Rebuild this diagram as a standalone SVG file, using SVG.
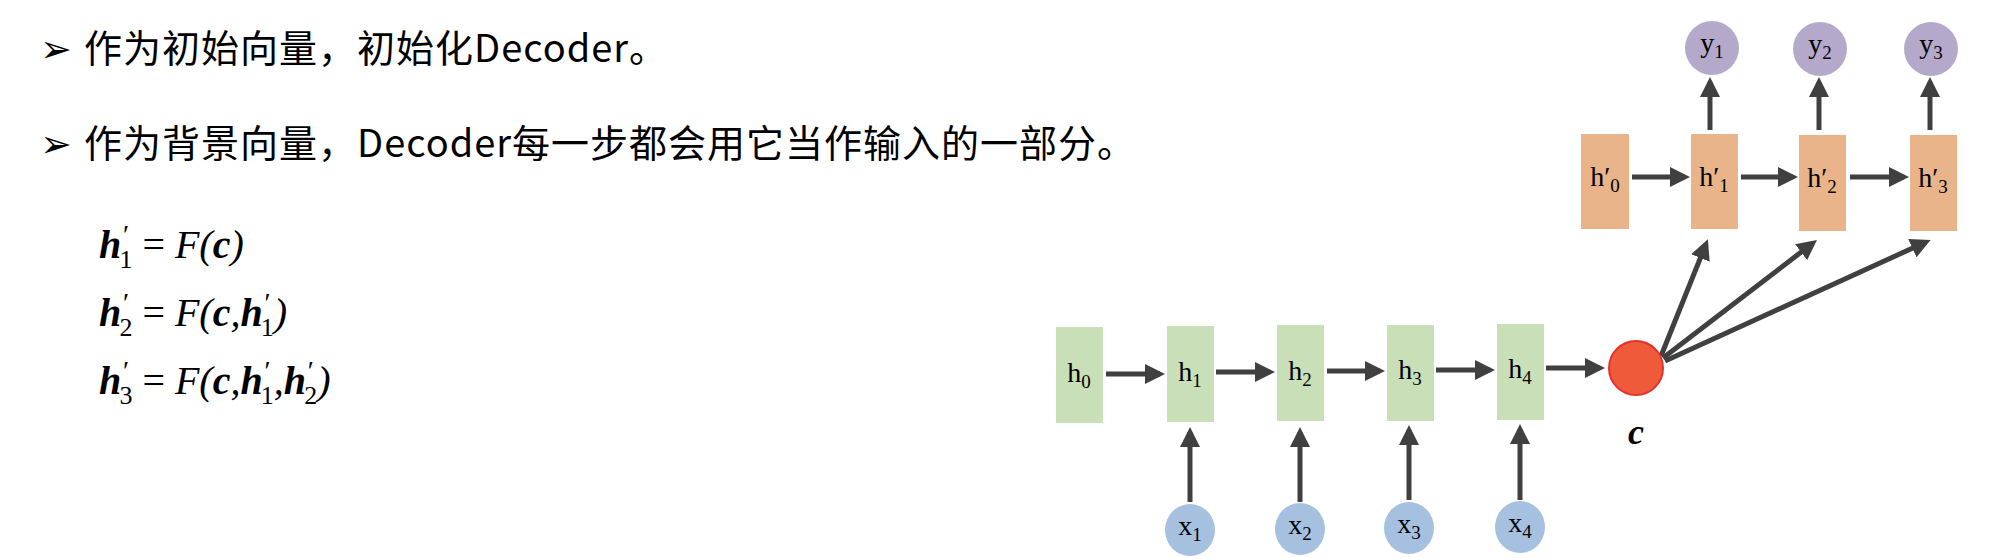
<svg xmlns="http://www.w3.org/2000/svg" width="1994" height="558" viewBox="0 0 1994 558">
<style>
.t{font-family:"Noto Sans CJK SC","Liberation Sans",sans-serif;font-size:38px;fill:#000;letter-spacing:1px}
.bu{font-family:"DejaVu Sans",sans-serif;font-size:38px;fill:#000}
.eq{font-family:"Liberation Serif",serif;font-size:40px;font-style:italic;fill:#000}
.b{font-weight:bold}
.n{font-family:"Liberation Serif","DejaVu Serif",serif;font-size:28px;fill:#000;text-anchor:middle}
.s{font-size:19px}
.enc{fill:#c9dfb8}
.dec{fill:#e9b48a}
.x{fill:#a6c1e0}
.y{fill:#b4a8cb}
.a{stroke:#404040;stroke-width:5;fill:none;marker-end:url(#ah)}
</style>
<defs>
<marker id="ah" markerWidth="4" markerHeight="4" refX="3" refY="2" orient="auto" markerUnits="strokeWidth"><path d="M0,0 L4,2 L0,4 z" fill="#404040"/></marker>
</defs>
<g id="text">
<text class="bu" x="40" y="62">➢</text>
<text class="t" x="84" y="62">作为初始向量，初始化Decoder。</text>
<text class="bu" x="40" y="157">➢</text>
<text class="t" x="84" y="157">作为背景向量，Decoder每一步都会用它当作输入的一部分。</text>
<text class="eq" x="99" y="258"><tspan class="b">h</tspan><tspan dy="-14" font-size="28">′</tspan><tspan dx="-8" dy="24" font-size="26" font-style="normal">1</tspan><tspan dy="-10" font-style="normal"> = </tspan>F(<tspan class="b">c</tspan>)</text>
<text class="eq" x="99" y="326"><tspan class="b">h</tspan><tspan dy="-14" font-size="28">′</tspan><tspan dx="-8" dy="24" font-size="26" font-style="normal">2</tspan><tspan dy="-10" font-style="normal"> = </tspan>F(<tspan class="b">c</tspan>,<tspan class="b">h</tspan><tspan dy="-14" font-size="28">′</tspan><tspan dx="-8" dy="24" font-size="26" font-style="normal">1</tspan><tspan dy="-10">)</tspan></text>
<text class="eq" x="99" y="394"><tspan class="b">h</tspan><tspan dy="-14" font-size="28">′</tspan><tspan dx="-8" dy="24" font-size="26" font-style="normal">3</tspan><tspan dy="-10" font-style="normal"> = </tspan>F(<tspan class="b">c</tspan>,<tspan class="b">h</tspan><tspan dy="-14" font-size="28">′</tspan><tspan dx="-8" dy="24" font-size="26" font-style="normal">1</tspan><tspan dy="-10">,</tspan><tspan class="b">h</tspan><tspan dy="-14" font-size="28">′</tspan><tspan dx="-8" dy="24" font-size="26" font-style="normal">2</tspan><tspan dy="-10">)</tspan></text>
</g>
<g id="connectors">
<line class="a" x1="1106" y1="374" x2="1160" y2="374"/>
<line class="a" x1="1216" y1="372" x2="1270" y2="372"/>
<line class="a" x1="1327" y1="371" x2="1380" y2="371"/>
<line class="a" x1="1436" y1="370" x2="1490" y2="370"/>
<line class="a" x1="1546" y1="368" x2="1600" y2="368"/>
<line class="a" x1="1632" y1="177" x2="1685" y2="177"/>
<line class="a" x1="1741" y1="177" x2="1793" y2="177"/>
<line class="a" x1="1850" y1="177" x2="1904" y2="177"/>
<line class="a" x1="1190" y1="502" x2="1190" y2="432"/>
<line class="a" x1="1300" y1="502" x2="1300" y2="432"/>
<line class="a" x1="1409" y1="500" x2="1409" y2="430"/>
<line class="a" x1="1520" y1="500" x2="1520" y2="429"/>
<line class="a" x1="1710" y1="130" x2="1710" y2="82"/>
<line class="a" x1="1819" y1="130" x2="1819" y2="82"/>
<line class="a" x1="1930" y1="130" x2="1930" y2="82"/>
<line class="a" x1="1661" y1="356" x2="1706" y2="244"/>
<line class="a" x1="1663" y1="358" x2="1813" y2="243"/>
<line class="a" x1="1665" y1="361" x2="1926" y2="242"/>
</g>
<g id="enc">
<g id="h0"><rect class="enc" x="1056" y="327" width="47" height="96"/><text class="n" x="1079" y="382">h<tspan class="s" dy="6">0</tspan></text></g>
<g id="h1"><rect class="enc" x="1167" y="326" width="47" height="96"/><text class="n" x="1190" y="381">h<tspan class="s" dy="6">1</tspan></text></g>
<g id="h2"><rect class="enc" x="1277" y="325" width="47" height="96"/><text class="n" x="1300" y="380">h<tspan class="s" dy="6">2</tspan></text></g>
<g id="h3"><rect class="enc" x="1387" y="325" width="47" height="96"/><text class="n" x="1410" y="379">h<tspan class="s" dy="6">3</tspan></text></g>
<g id="h4"><rect class="enc" x="1497" y="324" width="47" height="96"/><text class="n" x="1520" y="378">h<tspan class="s" dy="6">4</tspan></text></g>
</g>
<g id="c"><circle cx="1636" cy="368" r="27" fill="#ee5a3a" stroke="#e8302a" stroke-width="2"/><text x="1636" y="444" font-family="Liberation Serif,serif" font-size="36" font-style="italic" font-weight="bold" text-anchor="middle">c</text></g>
<g id="dec">
<g id="hp0"><rect class="dec" x="1581" y="134" width="48" height="95"/><text class="n" x="1605" y="186">h′<tspan class="s" dy="6">0</tspan></text></g>
<g id="hp1"><rect class="dec" x="1691" y="134" width="47" height="95"/><text class="n" x="1714" y="186">h′<tspan class="s" dy="6">1</tspan></text></g>
<g id="hp2"><rect class="dec" x="1799" y="135" width="47" height="96"/><text class="n" x="1822" y="187">h′<tspan class="s" dy="6">2</tspan></text></g>
<g id="hp3"><rect class="dec" x="1910" y="135" width="47" height="96"/><text class="n" x="1933" y="187">h′<tspan class="s" dy="6">3</tspan></text></g>
</g>
<g id="xs">
<g id="x1"><ellipse class="x" cx="1190" cy="530" rx="25" ry="26"/><text class="n" x="1190" y="535">x<tspan class="s" dy="6">1</tspan></text></g>
<g id="x2"><ellipse class="x" cx="1300" cy="529" rx="25" ry="26"/><text class="n" x="1300" y="534">x<tspan class="s" dy="6">2</tspan></text></g>
<g id="x3"><ellipse class="x" cx="1409" cy="528" rx="25" ry="26"/><text class="n" x="1409" y="533">x<tspan class="s" dy="6">3</tspan></text></g>
<g id="x4"><ellipse class="x" cx="1520" cy="527" rx="25" ry="26"/><text class="n" x="1520" y="532">x<tspan class="s" dy="6">4</tspan></text></g>
</g>
<g id="ys">
<g id="y1"><ellipse class="y" cx="1712" cy="48" rx="27" ry="27"/><text class="n" x="1712" y="52">y<tspan class="s" dy="6">1</tspan></text></g>
<g id="y2"><ellipse class="y" cx="1820" cy="49" rx="27" ry="27"/><text class="n" x="1820" y="53">y<tspan class="s" dy="6">2</tspan></text></g>
<g id="y3"><ellipse class="y" cx="1931" cy="49" rx="27" ry="27"/><text class="n" x="1931" y="53">y<tspan class="s" dy="6">3</tspan></text></g>
</g>
</svg>
